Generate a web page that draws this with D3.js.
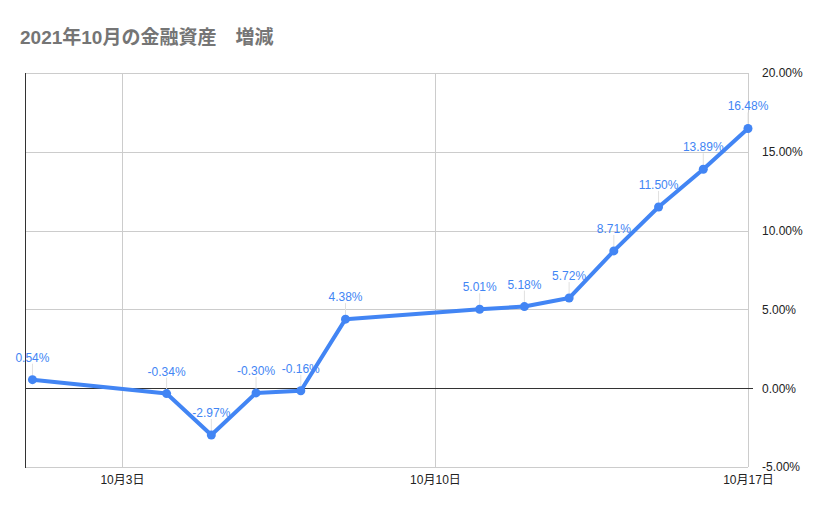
<!DOCTYPE html>
<html>
<head>
<meta charset="utf-8">
<script src="https://cdn.jsdelivr.net/npm/d3@7"></script>
<style>
  body { margin: 0; background: #fff; }
  text { font-family: "Liberation Sans", Arial, "Noto Sans CJK JP", sans-serif; }
</style>
</head>
<body>
<div id="root"></div>
<script>
const width = 829;
const height = 514;

// data (day of October 2021, change in %)
const days = [1, 4, 5, 6, 7, 8, 11, 12, 13, 14, 15, 16, 17];
const changes = [0.54, -0.34, -2.97, -0.3, -0.16, 4.38, 5.01, 5.18, 5.72, 8.71, 11.5, 13.89, 16.48];
const xTickDays = [3, 10, 17];
const yTicks = [-5, 0, 5, 10, 15, 20];
const title = "2021年10月の金融資産　増減";

const dates = days.map((d) => new Date(2021, 9, d));
const blue = "#4285f4";
const pct = (d) => d.toFixed(2) + "%";

let svg = d3
  .select("#root")
  .append("svg")
  .attr("width", width)
  .attr("height", height);

svg
  .append("text")
  .attr("x", 20)
  .attr("y", 44)
  .style("font-size", "19px")
  .style("font-weight", "bold")
  .style("fill", "#757575")
  .text(title);

// left edge sits a bit before the first day
let start = new Date(2021, 9, 1);
start.setHours(start.getHours() - 4);
let xScale = d3
  .scaleTime()
  .domain([start, new Date(2021, 9, 17)])
  .range([25, 748]);

let yScale = d3.scaleLinear().domain([-5, 20]).range([467, 73]);

// horizontal grid
svg
  .append("g")
  .selectAll("line")
  .data(yTicks)
  .enter()
  .append("line")
  .attr("x1", 25)
  .attr("x2", 748)
  .attr("y1", (d) => Math.round(yScale(d)) + 0.5)
  .attr("y2", (d) => Math.round(yScale(d)) + 0.5)
  .style("stroke", "#cccccc");

// vertical grid
let tickDates = xTickDays.map((d) => new Date(2021, 9, d));
svg
  .append("g")
  .selectAll("line")
  .data(tickDates)
  .enter()
  .append("line")
  .attr("x1", (d) => Math.round(xScale(d)) + 0.5)
  .attr("x2", (d) => Math.round(xScale(d)) + 0.5)
  .attr("y1", 73)
  .attr("y2", 467)
  .style("stroke", "#cccccc");

// zero line and left baseline
svg
  .append("line")
  .attr("x1", 25)
  .attr("x2", 753)
  .attr("y1", Math.round(yScale(0)) + 0.5)
  .attr("y2", Math.round(yScale(0)) + 0.5)
  .style("stroke", "#333");

svg
  .append("line")
  .attr("x1", 25.5)
  .attr("x2", 25.5)
  .attr("y1", 73)
  .attr("y2", 468)
  .style("stroke", "#333");

// x axis labels
let xAxis = d3
  .axisBottom(xScale)
  .tickValues(tickDates)
  .tickSize(0)
  .tickPadding(8)
  .tickFormat((d) => "10月" + d.getDate() + "日");

svg
  .append("g")
  .attr("transform", "translate(0, 467)")
  .call(xAxis)
  .call((g) => g.select(".domain").remove())
  .selectAll("text")
  .style("font-size", "12px")
  .style("font-family", null)
  .style("fill", "#222");

// y axis labels on the right
let yAxis = d3
  .axisRight(yScale)
  .tickValues(yTicks)
  .tickSize(0)
  .tickPadding(14)
  .tickFormat(pct);

svg
  .append("g")
  .attr("transform", "translate(748, 0)")
  .call(yAxis)
  .call((g) => g.select(".domain").remove())
  .selectAll("text")
  .style("font-size", "12px")
  .style("fill", "#222");

svg.selectAll("g.tick text").attr("font-family", null);
svg.selectAll("g").attr("font-family", null).attr("font-size", null);

// label connectors
svg
  .append("g")
  .selectAll("line")
  .data(changes)
  .enter()
  .append("line")
  .attr("x1", (d, i) => xScale(dates[i]))
  .attr("x2", (d, i) => xScale(dates[i]))
  .attr("y1", (d) => yScale(d) - 4)
  .attr("y2", (d) => yScale(d) - 16)
  .style("stroke", "#e0e0e0");

let line = d3
  .line()
  .x((d, i) => xScale(dates[i]))
  .y((d) => yScale(d));

svg
  .append("path")
  .datum(changes)
  .attr("d", line)
  .style("fill", "none")
  .style("stroke", blue)
  .style("stroke-width", 4)
  .style("stroke-linejoin", "round");

svg
  .append("g")
  .selectAll("circle")
  .data(changes)
  .enter()
  .append("circle")
  .attr("cx", (d, i) => xScale(dates[i]))
  .attr("cy", (d) => yScale(d))
  .attr("r", 4.5)
  .style("fill", blue);

svg
  .append("g")
  .selectAll("text")
  .data(changes)
  .enter()
  .append("text")
  .attr("x", (d, i) => xScale(dates[i]))
  .attr("y", (d) => yScale(d) - 18)
  .attr("text-anchor", "middle")
  .style("font-size", "12px")
  .style("fill", blue)
  .text(pct);
</script>
</body>
</html>
